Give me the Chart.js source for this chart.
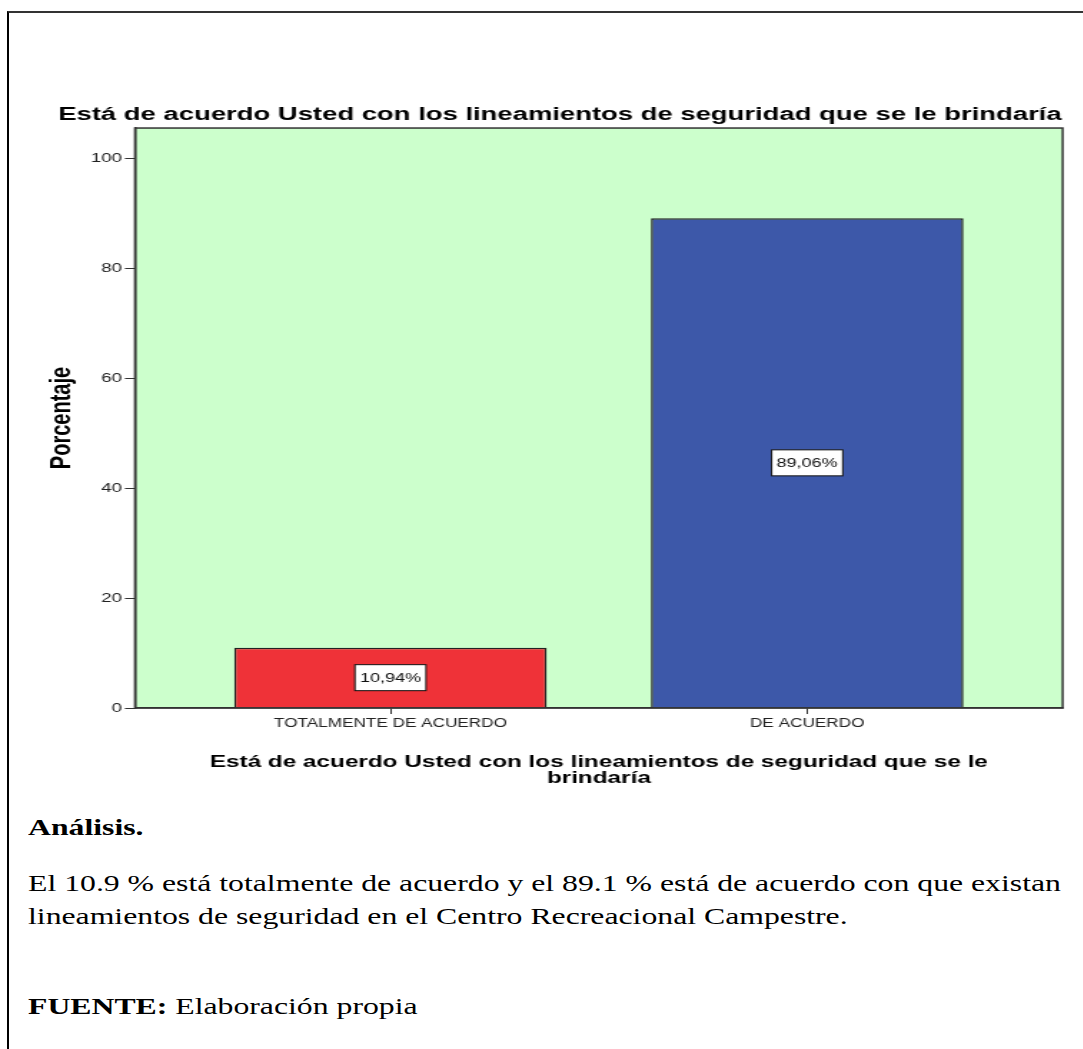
<!DOCTYPE html>
<html lang="es">
<head>
<meta charset="utf-8">
<title>Lineamientos de seguridad</title>
<script src="https://cdn.jsdelivr.net/npm/chart.js@4.4.1/dist/chart.umd.min.js"></script>
<style>
  body { margin: 0; background: #fff; width: 1083px; height: 1049px; overflow: hidden; position: relative; }
  #marco { position: absolute; left: 7px; top: 11px; width: 1100px; height: 1100px; border-top: 2px solid #333; border-left: 2px solid #000; }
  /* la imagen original esta estirada a lo ancho */
  #envoltorio { position: absolute; left: 0; top: 0; width: 757px; height: 800px; transform: scaleX(1.43); transform-origin: 0 0; }
  .linea { position: absolute; left: 28px; font-family: 'Liberation Serif', 'Times New Roman', serif; font-size: 23px; line-height: 33px; white-space: nowrap; transform: scaleX(1.38); transform-origin: 0 0; color: #000; }
</style>
</head>
<body>
<div id="marco"></div>
<div id="envoltorio"><canvas id="grafico1"></canvas></div>
<div class="linea" style="top: 811px;"><b>Análisis.</b></div>
<div class="linea" style="top: 867px;">El 10.9 % está totalmente de acuerdo y el 89.1 % está de acuerdo con que existan</div>
<div class="linea" style="top: 900px;">lineamientos de seguridad en el Centro Recreacional Campestre.</div>
<div class="linea" style="top: 990px;"><b>FUENTE:</b> Elaboración propia</div>

<script>
const categorias = ['TOTALMENTE DE ACUERDO', 'DE ACUERDO']
const porcentajes = [10.94, 89.06]
const colores = ['#EF3238', '#3D58A9']
const ticksY = [0, 20, 40, 60, 80, 100]
const tituloGrafico = 'Está de acuerdo Usted con los lineamientos de seguridad que se le brindaría'
const tituloEjeX = ['Está de acuerdo Usted con los lineamientos de seguridad que se le', 'brindaría']
const tituloEjeY = 'Porcentaje'

const fuente = '"Liberation Sans", Arial, sans-serif'

// fondo verde del area, marco y etiquetas de cada barra
const estiloSpss = {
    id: 'estiloSpss',
    beforeDraw(chart) {
        const {ctx, chartArea: a} = chart
        ctx.save()
        ctx.fillStyle = '#CCFFCC'
        ctx.fillRect(a.left, a.top, a.width, a.height)
        ctx.restore()
    },
    afterDatasetsDraw(chart) {
        const {ctx, chartArea: a} = chart
        ctx.save()
        ctx.strokeStyle = '#333'
        ctx.lineWidth = 1.5
        ctx.strokeRect(a.left, a.top, a.width, a.height)

        ctx.font = `12.6px ${fuente}`
        ctx.textAlign = 'center'
        ctx.textBaseline = 'middle'
        chart.getDatasetMeta(0).data.forEach((barra, i) => {
            let texto = porcentajes[i].toFixed(2).replace('.', ',') + '%'
            let w = ctx.measureText(texto).width + 7
            let h = 26
            let cx = barra.x
            let cy = (barra.y + barra.base) / 2
            ctx.fillStyle = '#fff'
            ctx.fillRect(cx - w / 2, cy - h / 2, w, h)
            ctx.strokeStyle = '#111'
            ctx.lineWidth = 1
            ctx.strokeRect(cx - w / 2, cy - h / 2, w, h)
            ctx.fillStyle = '#111'
            ctx.fillText(texto, cx, cy + 1)
        })
        ctx.restore()
    }
}

let ctx = document.getElementById('grafico1')
new Chart(ctx, {
    type: 'bar',
    data: {
        datasets: [{
            data: porcentajes.map((v, i) => ({x: i, y: v})),
            backgroundColor: colores,
            borderColor: '#222',
            borderWidth: 1.5,
            barPercentage: 0.75,
            categoryPercentage: 1
        }]
    },
    options: {
        responsive: true,
        maintainAspectRatio: false,
        animation: false,
        layout: { padding: { left: 40, right: 13.9, top: 0, bottom: 0 } },
        plugins: {
            legend: { display: false },
            tooltip: { enabled: false },
            title: {
                display: true,
                text: tituloGrafico,
                color: '#000',
                font: { family: fuente, size: 19.2, weight: 'bold', lineHeight: 1.2 },
                padding: { top: 103.5, bottom: 1.5 }
            }
        },
        scales: {
            x: {
                type: 'linear',
                min: -0.613,
                max: 1.613,
                offset: false,
                afterBuildTicks: s => { s.ticks = categorias.map((c, i) => ({value: i})) },
                afterFit: s => { s.height = 92 },
                ticks: {
                    callback: v => categorias[v],
                    color: '#222',
                    font: { family: fuente, size: 12 },
                    padding: 2,
                    maxRotation: 0,
                    autoSkip: false
                },
                grid: { drawOnChartArea: false, tickLength: 6, color: '#333', offset: false },
                border: { color: '#333', width: 1.5 },
                title: {
                    display: true,
                    text: tituloEjeX,
                    color: '#000',
                    font: { family: fuente, size: 17, weight: 'bold', lineHeight: 0.94 },
                    padding: { top: 0, bottom: 14 }
                }
            },
            y: {
                min: 0,
                max: 105.45,
                afterBuildTicks: s => { s.ticks = ticksY.map(v => ({value: v})) },
                afterFit: s => { s.width = 54.4 },
                ticks: {
                    color: '#222',
                    font: { family: fuente, size: 13.2 },
                    padding: 2
                },
                grid: { drawOnChartArea: false, tickLength: 7, color: '#333' },
                border: { color: '#333', width: 1.5 },
                title: {
                    display: true,
                    text: tituloEjeY,
                    color: '#000',
                    font: { family: fuente, size: 20, weight: 'bold', lineHeight: 1.0 },
                    padding: { top: -6.6, bottom: 0 }
                }
            }
        }
    },
    plugins: [estiloSpss]
})
</script>
</body>
</html>
